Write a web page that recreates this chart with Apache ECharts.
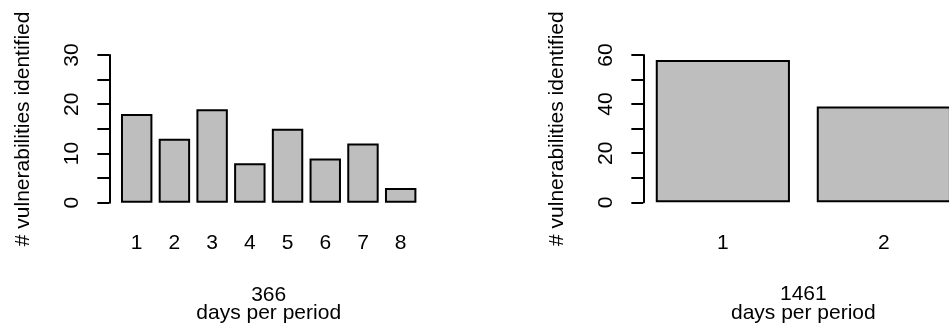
<!DOCTYPE html>
<html>
<head>
<meta charset="utf-8">
<script src="https://cdn.jsdelivr.net/npm/echarts@6/dist/echarts.min.js"></script>
<style>
  html, body { margin: 0; padding: 0; background: #fff; overflow: hidden; width: 949px; height: 331px; }
  #chart { width: 970px; height: 331px; }
</style>
</head>
<body>
<div id="chart"></div>
<script>
// ---- data ----
var periods366 = ['1', '2', '3', '4', '5', '6', '7', '8'];
var vulns366 = [18, 13, 19, 8, 15, 9, 12, 3];
var periods1461 = ['1', '2'];
var vulns1461 = [58, 39];
var yTitle = '# vulnerabilities identified';
var xTitle366 = '366\ndays per period';
var xTitle1461 = '1461\ndays per period';

var FONT = "'Liberation Sans', Arial, Helvetica, sans-serif";
var FS = 21;

function yAxisCfg(gridIndex, max, interval, labelStep, offset) {
  return {
    type: 'value', gridIndex: gridIndex, min: 0, max: max, interval: interval,
    offset: offset,
    name: yTitle, nameLocation: 'middle', nameRotate: 90, nameGap: 76,
    nameTextStyle: { fontFamily: FONT, fontSize: FS, color: '#000' },
    axisLine: { show: true, lineStyle: { color: '#000', width: 2 } },
    axisTick: { show: true, length: 12, lineStyle: { color: '#000', width: 2 } },
    axisLabel: {
      rotate: 90, margin: 27, fontFamily: FONT, fontSize: FS, color: '#000',
      formatter: function (v) { return v % labelStep === 0 ? String(v) : ''; }
    },
    splitLine: { show: false }
  };
}

function xAxisCfg(gridIndex, cats, title) {
  return {
    type: 'category', gridIndex: gridIndex, data: cats,
    axisLine: { show: false }, axisTick: { show: false },
    axisLabel: { margin: 30, fontFamily: FONT, fontSize: FS, color: '#000' },
    name: title, nameLocation: 'middle', nameGap: 83,
    nameTextStyle: { fontFamily: FONT, fontSize: FS, color: '#000', lineHeight: 18.5 }
  };
}

var barStyle = { color: '#BEBEBE', borderColor: '#000', borderWidth: 2 };

var chart = echarts.init(document.getElementById('chart'), null, { renderer: 'canvas' });
chart.setOption({
  animation: false,
  backgroundColor: '#fff',
  grid: [
    { left: 117.84, top: 55, width: 301.7, height: 147.7 },
    { left: 642.35, top: 55, width: 322, height: 147.3 }
  ],
  xAxis: [
    xAxisCfg(0, periods366, xTitle366),
    xAxisCfg(1, periods1461, xTitle1461)
  ],
  yAxis: [
    yAxisCfg(0, 30, 5, 10, 8.5),
    yAxisCfg(1, 60, 10, 20, -1)
  ],
  series: [
    { type: 'bar', xAxisIndex: 0, yAxisIndex: 0, data: vulns366,
      barCategoryGap: '16.67%', itemStyle: barStyle, silent: true },
    { type: 'bar', xAxisIndex: 1, yAxisIndex: 1, data: vulns1461,
      barCategoryGap: '16.67%', itemStyle: barStyle, silent: true }
  ]
});
</script>
</body>
</html>
